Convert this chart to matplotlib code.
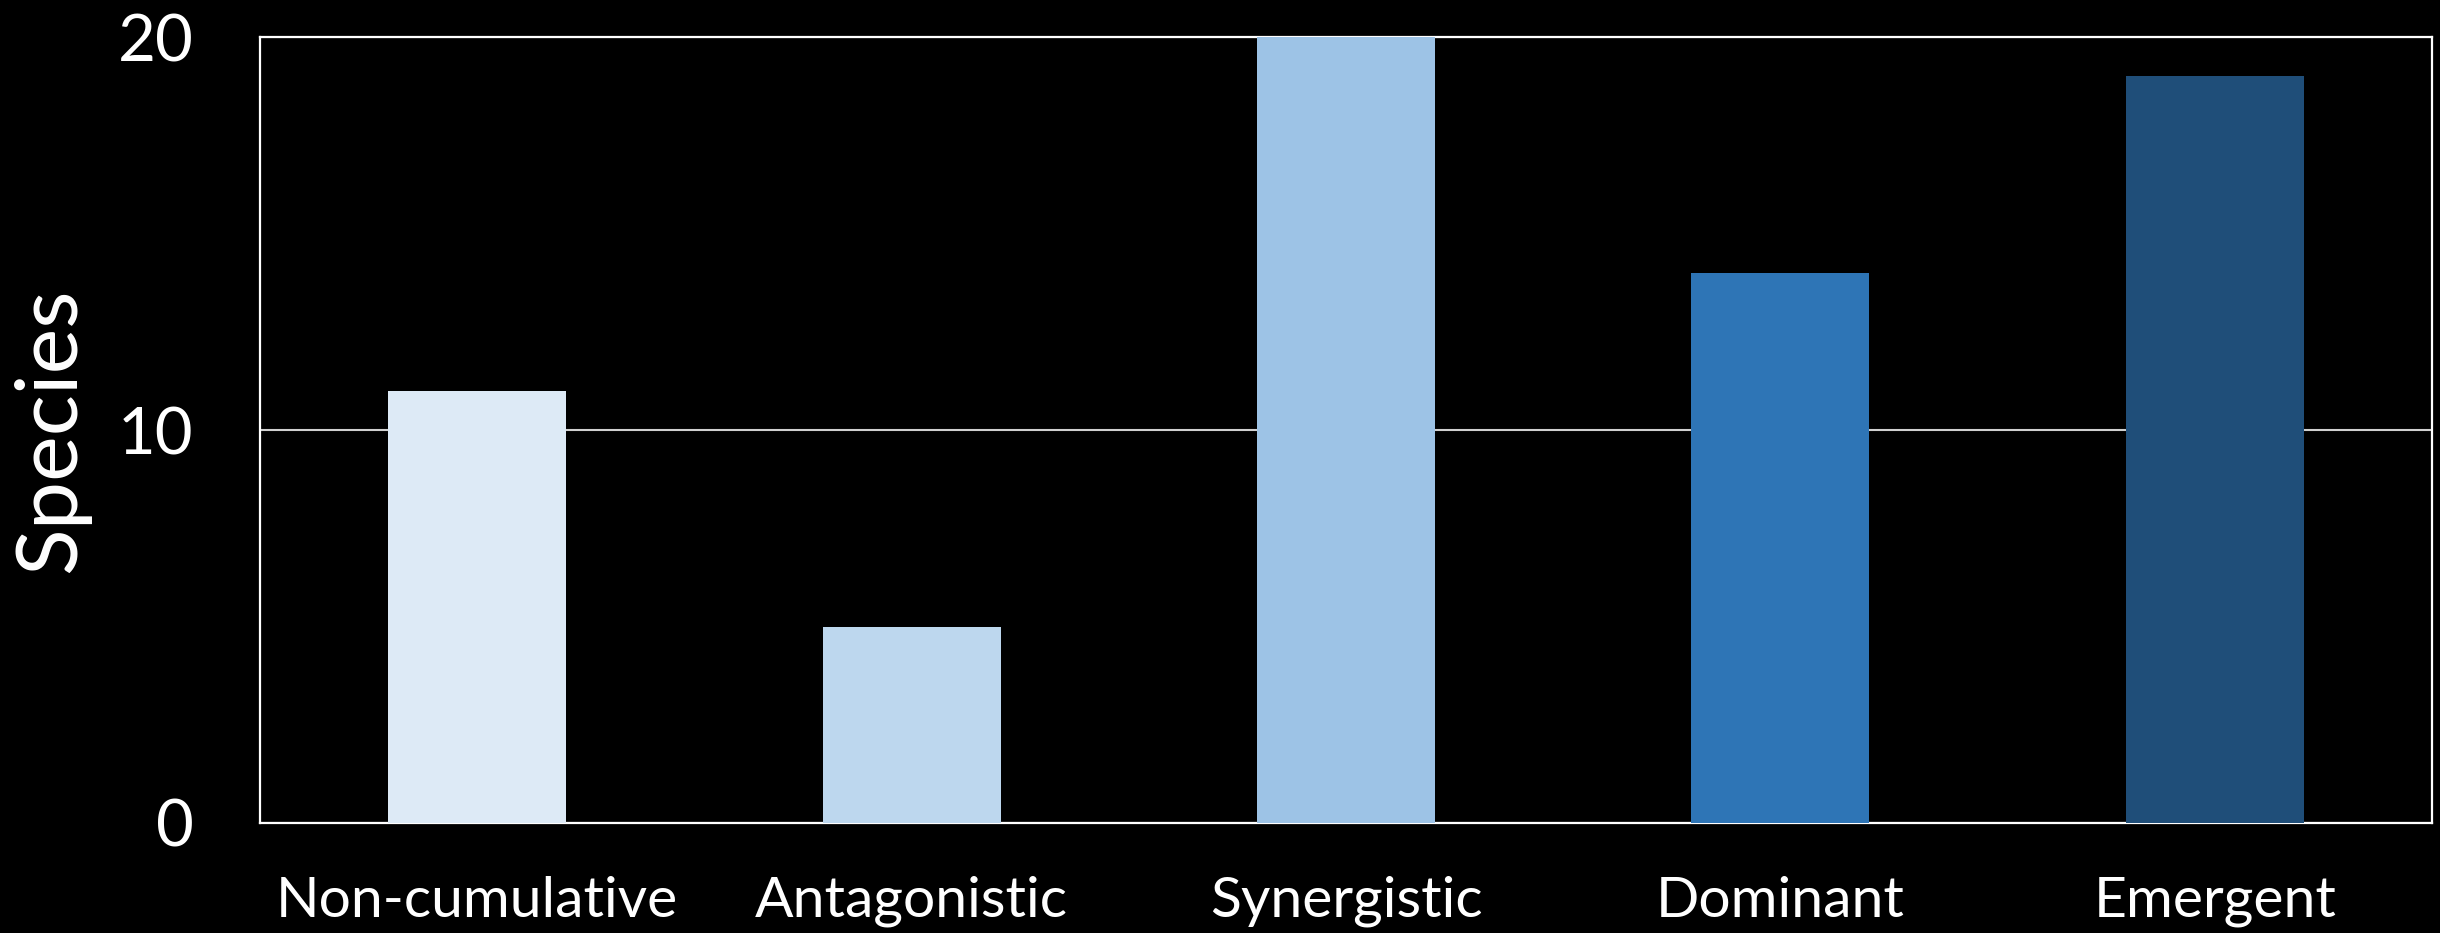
import numpy as np
import matplotlib
matplotlib.use('Agg')
import matplotlib.pyplot as plt

# interaction types and number of species in each
categories = ['Non-cumulative', 'Antagonistic', 'Synergistic', 'Dominant', 'Emergent']
species = [11, 5, 20, 14, 19]
bar_colors = ['#DDEAF6', '#BDD7EE', '#9DC3E6', '#2E75B6', '#1F4E79']

plt.rcParams.update({'font.family': ['Lato', 'DejaVu Sans']})

fig = plt.figure(figsize=(24.4, 9.33), dpi=100, facecolor='black')
ax = fig.add_axes([0.1066, 0.1179, 0.8901, 0.8424], facecolor='black')

x = np.arange(len(categories))
ax.bar(x, species, width=0.41, color=bar_colors, zorder=3)

ax.set_xlim(-0.5, len(categories) - 0.5)
ax.set_ylim(0, 20)
ax.set_yticks([0, 10, 20])
ax.set_xticks(x)
ax.set_xticklabels(categories)

# white frame and a single gridline at 10
for spine in ax.spines.values():
    spine.set_color('white')
    spine.set_linewidth(1.6)
ax.yaxis.grid(True, color='#d0d0d0', linewidth=1.5, zorder=1)

ax.tick_params(axis='y', length=0, pad=48, labelsize=47, colors='white')
ax.tick_params(axis='x', length=0, pad=38, labelsize=41, colors='white')
ax.set_ylabel('Species', fontsize=62, color='white', labelpad=20)

fig.savefig('out.png', dpi=100, facecolor='black')
